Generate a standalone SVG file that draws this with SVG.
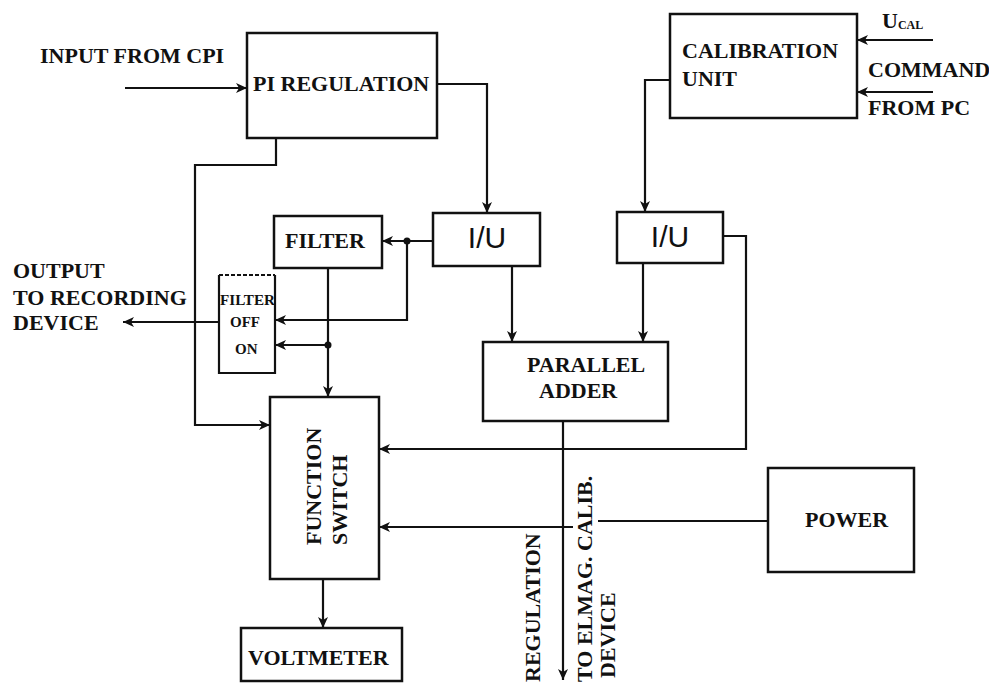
<svg xmlns="http://www.w3.org/2000/svg" width="989" height="683" viewBox="0 0 989 683">
<defs>
<marker id="ah" markerUnits="userSpaceOnUse" markerWidth="12" markerHeight="10" refX="11" refY="5" orient="auto">
<path d="M0,0 L11,5 L0,10 L3,5 Z" fill="#111"/>
</marker>
<style>
.box{fill:#fff;stroke:#111;stroke-width:2.5}
.ln{fill:none;stroke:#111;stroke-width:2.2}
.t{font-family:"Liberation Serif","Times New Roman",serif;font-weight:bold;font-size:22px;fill:#111}
.s{font-family:"Liberation Sans",Arial,sans-serif;font-size:30px;fill:#111}
.sm{font-family:"Liberation Serif","Times New Roman",serif;font-weight:bold;font-size:15px;fill:#111}
</style>
</defs>
<rect width="989" height="683" fill="#fff"/>

<g id="connectors">
<path class="ln" d="M125,88 H247" marker-end="url(#ah)"/>
<path class="ln" d="M437,84 H487 V213" marker-end="url(#ah)"/>
<path class="ln" d="M276,138 V165 H195 V425 H270" marker-end="url(#ah)"/>
<path class="ln" d="M670,80 H645 V212" marker-end="url(#ah)"/>
<path class="ln" d="M933,40 H857" marker-end="url(#ah)"/>
<path class="ln" d="M933,92 H857" marker-end="url(#ah)"/>
<path class="ln" d="M433,241 H382" marker-end="url(#ah)"/>
<path class="ln" d="M407,241 V320 H275" marker-end="url(#ah)"/>
<path class="ln" d="M328,268 V397" marker-end="url(#ah)"/>
<path class="ln" d="M328,345 H275" marker-end="url(#ah)"/>
<path class="ln" d="M219,322 H123" marker-end="url(#ah)"/>
<path class="ln" d="M512,266 V342" marker-end="url(#ah)"/>
<path class="ln" d="M643,263 V342" marker-end="url(#ah)"/>
<path class="ln" d="M723,236 H746 V449 H379" marker-end="url(#ah)"/>
<path class="ln" d="M768,521 H598"/>
<path class="ln" d="M573,527 H379" marker-end="url(#ah)"/>
<path class="ln" d="M563,421 V680" marker-end="url(#ah)"/>
<path class="ln" d="M323,579 V628" marker-end="url(#ah)"/>
<circle cx="407" cy="241" r="3.5" fill="#111"/>
<circle cx="328" cy="345" r="3.5" fill="#111"/>
</g>

<g id="labels">
<text class="t" x="40" y="63">INPUT FROM CPI</text>
<text class="t" x="13" y="278">OUTPUT</text>
<text class="t" x="13" y="305">TO RECORDING</text>
<text class="t" x="13" y="330">DEVICE</text>
<text class="t" x="882" y="28">U<tspan font-size="12" dy="1">CAL</tspan></text>
<text class="t" x="868" y="77">COMMAND</text>
<text class="t" x="868" y="115">FROM PC</text>
<text class="t" transform="translate(540,682) rotate(-90)">REGULATION</text>
<text class="t" transform="translate(592,682) rotate(-90)">TO ELMAG.  CALIB.</text>
<text class="t" transform="translate(615,678) rotate(-90)">DEVICE</text>
</g>

<g id="pi-regulation">
<rect class="box" x="247" y="33" width="190" height="105"/>
<text class="t" x="253" y="91">PI REGULATION</text>
</g>

<g id="calibration-unit">
<rect class="box" x="670" y="14" width="187" height="104"/>
<text class="t" x="682" y="58">CALIBRATION</text>
<text class="t" x="682" y="86">UNIT</text>
</g>

<g id="filter">
<rect class="box" x="274" y="216" width="108" height="52"/>
<text class="t" x="285" y="248">FILTER</text>
</g>

<g id="iu-1">
<rect class="box" x="433" y="213" width="107" height="53"/>
<text class="s" x="487" y="248" text-anchor="middle">I/U</text>
</g>

<g id="iu-2">
<rect class="box" x="617" y="212" width="106" height="51"/>
<text class="s" x="670" y="247" text-anchor="middle">I/U</text>
</g>

<g id="filter-switch">
<path class="ln" d="M219,275 V373 H275 V275" stroke-width="2.5"/>
<path class="ln" d="M219,275 H275" stroke-dasharray="4,2"/>
<text class="sm" x="220" y="305" textLength="55" lengthAdjust="spacingAndGlyphs">FILTER</text>
<text class="sm" x="230" y="327">OFF</text>
<text class="sm" x="235" y="354">ON</text>
</g>

<g id="parallel-adder">
<rect class="box" x="483" y="342" width="185" height="79"/>
<text class="t" x="527" y="372">PARALLEL</text>
<text class="t" x="539" y="398">ADDER</text>
</g>

<g id="function-switch">
<rect class="box" x="270" y="397" width="109" height="182"/>
<text class="t" transform="translate(321,545) rotate(-90)">FUNCTION</text>
<text class="t" transform="translate(347,545) rotate(-90)">SWITCH</text>
</g>

<g id="power">
<rect class="box" x="768" y="468" width="146" height="104"/>
<text class="t" x="805" y="527">POWER</text>
</g>

<g id="voltmeter">
<rect class="box" x="241" y="628" width="161" height="53"/>
<text class="t" x="248" y="665">VOLTMETER</text>
</g>
</svg>
